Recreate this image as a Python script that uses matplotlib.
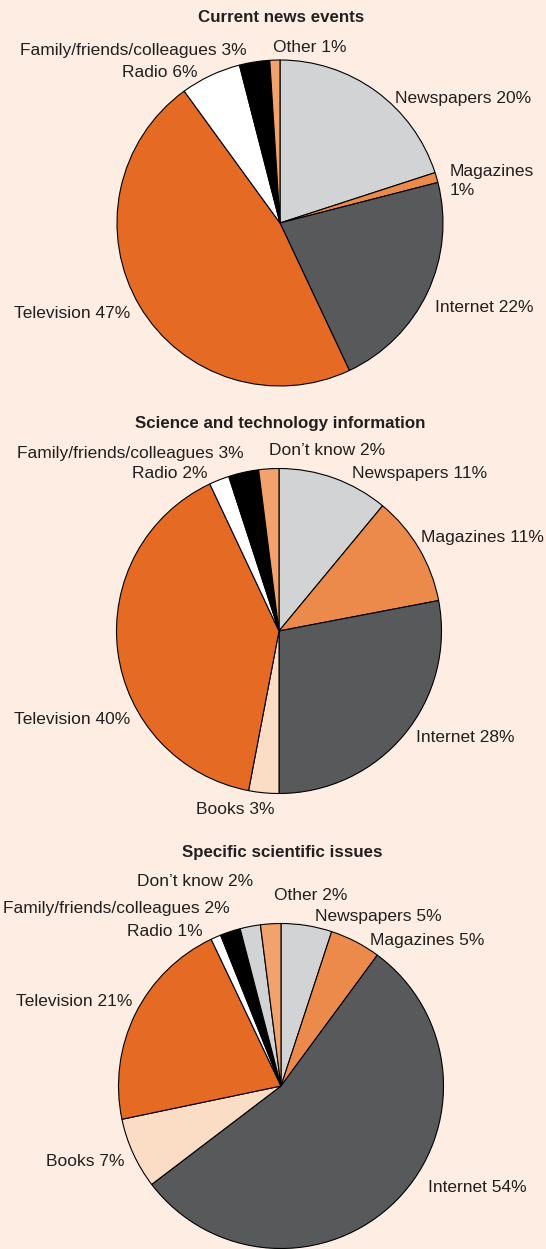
import matplotlib.pyplot as plt

W, H = 546, 1249
BG = '#fdede2'
plt.rcParams['font.family'] = ['Liberation Sans', 'DejaVu Sans']

# --- data ---
news_labels = ['Newspapers', 'Magazines', 'Internet', 'Television', 'Radio',
               'Family/friends/colleagues', 'Other']
news_values = [20, 1, 22, 47, 6, 3, 1]

sci_labels = ['Newspapers', 'Magazines', 'Internet', 'Books', 'Television', 'Radio',
              'Family/friends/colleagues', 'Don’t know']
sci_values = [11, 11, 28, 3, 40, 2, 3, 2]

issue_labels = ['Newspapers', 'Magazines', 'Internet', 'Books', 'Television', 'Radio',
                'Family/friends/colleagues', 'Don’t know', 'Other']
issue_values = [5, 5, 54, 7, 21, 1, 2, 2, 2]

titles = ['Current news events', 'Science and technology information',
          'Specific scientific issues']

# --- styles ---
COLORS = {
    'Newspapers': '#d1d3d4',
    'Magazines': '#ec8a4b',
    'Internet': '#58595b',
    'Books': '#fbdcc5',
    'Television': '#e56b25',
    'Radio': '#ffffff',
    'Family/friends/colleagues': '#000000',
    'Other': '#f2a26c',
    'Don’t know': '#f2a26c',
}
# third pie draws "Don't know" in grey
COLORS_ISSUES = dict(COLORS, **{'Don’t know': '#d1d3d4'})

# layout in pixels from the top-left corner
PIES = [
    dict(center=(280, 223), radius=163, title_y=17, colors=COLORS,
         pos={'Newspapers': (395, 98, 'left'), 'Magazines': (450, 181, 'left'),
              'Internet': (435, 307, 'left'), 'Television': (130, 313, 'right'),
              'Radio': (198, 72, 'right'),
              'Family/friends/colleagues': (247, 50, 'right'),
              'Other': (273, 47, 'left')}),
    dict(center=(279, 631), radius=162.5, title_y=423, colors=COLORS,
         pos={'Newspapers': (352, 473, 'left'), 'Magazines': (421, 537, 'left'),
              'Internet': (416, 737, 'left'), 'Books': (196, 809, 'left'),
              'Television': (130, 719, 'right'), 'Radio': (208, 473, 'right'),
              'Family/friends/colleagues': (244, 453, 'right'),
              'Don’t know': (269, 450, 'left')}),
    dict(center=(281, 1086), radius=162.5, title_y=853, colors=COLORS_ISSUES,
         pos={'Newspapers': (315, 916, 'left'), 'Magazines': (370, 940, 'left'),
              'Internet': (428, 1188, 'left'), 'Books': (124, 1162, 'right'),
              'Television': (132, 1002, 'right'), 'Radio': (203, 932, 'right'),
              'Family/friends/colleagues': (230, 908, 'right'),
              'Don’t know': (253, 882, 'right'), 'Other': (274, 895, 'left')}),
]

FS = 12.5
TEXT = '#231f20'

fig = plt.figure(figsize=(W / 100, H / 100), dpi=100, facecolor=BG)
ax = fig.add_axes([0, 0, 1, 1])
ax.set_facecolor(BG)

datasets = [(news_labels, news_values), (sci_labels, sci_values),
            (issue_labels, issue_values)]

for (labels, values), title, cfg in zip(datasets, titles, PIES):
    cx, cy = cfg['center']
    ax.pie(values, colors=[cfg['colors'][l] for l in labels], startangle=90,
           counterclock=False, center=(cx, H - cy), radius=cfg['radius'],
           wedgeprops=dict(edgecolor='black', linewidth=0.8))
    ax.text(cx + 1, H - cfg['title_y'], title, ha='center', va='center',
            fontsize=12.2, fontweight='bold', color=TEXT)
    for lab, val in zip(labels, values):
        x, y, ha = cfg['pos'][lab]
        txt = f'{lab} {val}%'
        if title == titles[0] and lab == 'Magazines':
            txt = f'{lab}\n{val}%'
        ax.text(x, H - y, txt, ha=ha, va='center', fontsize=FS, color=TEXT,
                linespacing=1.3)

ax.set_xlim(0, W)
ax.set_ylim(0, H)
ax.set_aspect('equal')
ax.axis('off')

fig.savefig('out.png', dpi=100, facecolor=BG)
